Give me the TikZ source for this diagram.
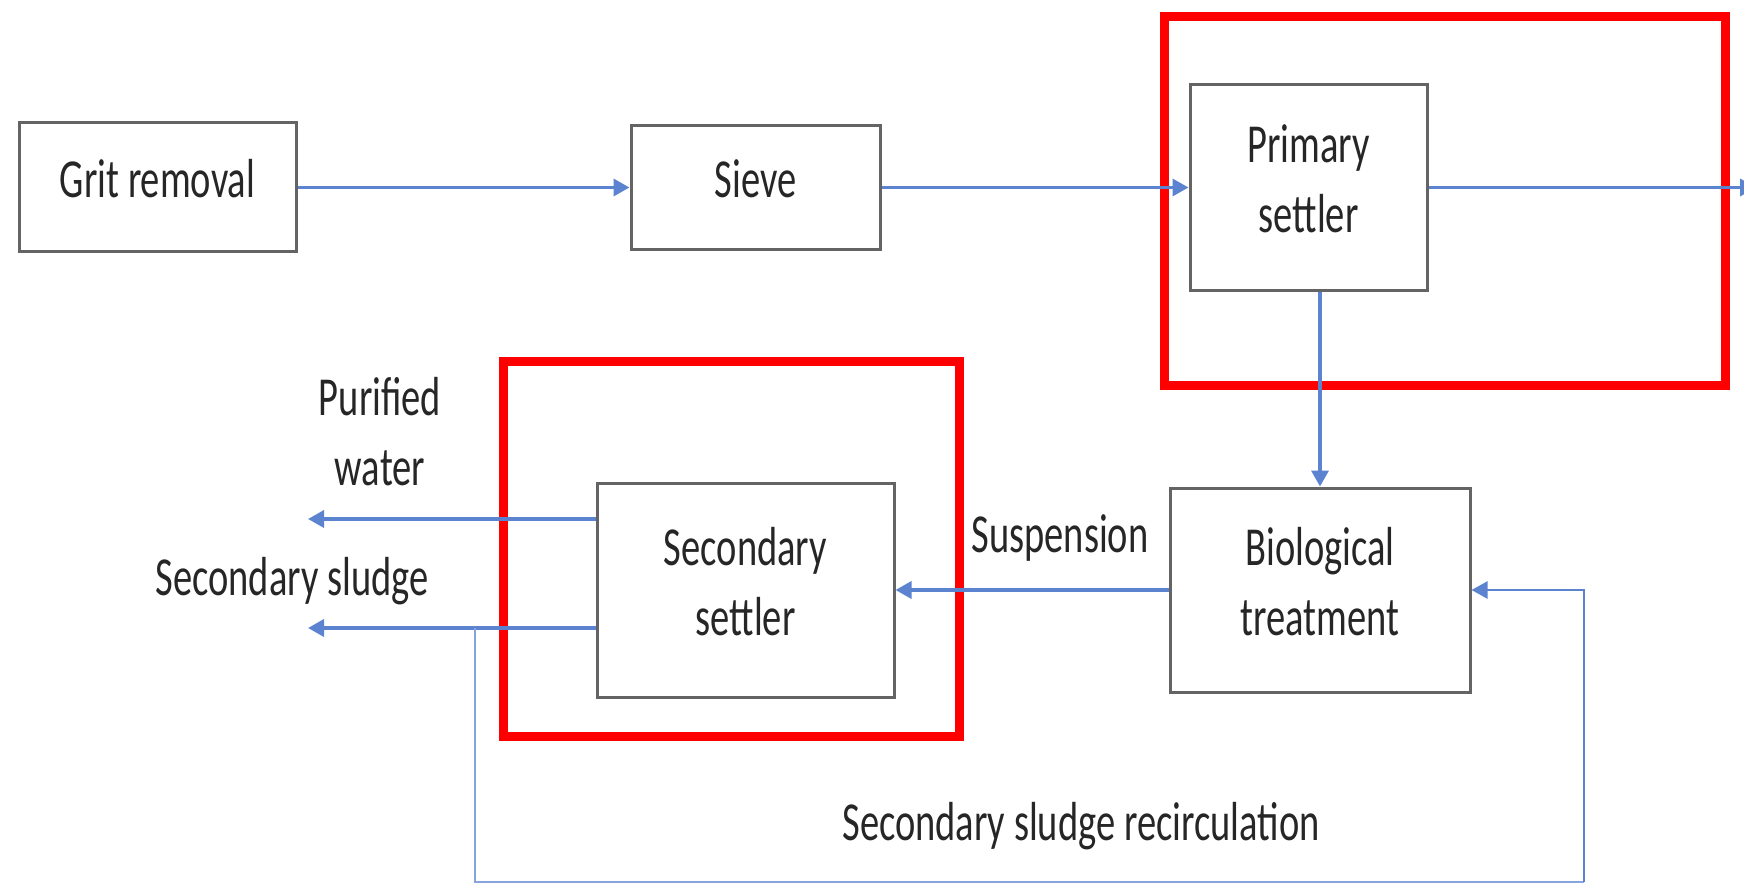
\documentclass[tikz,border=0pt]{standalone}
\usepackage{fontspec}
\newfontfamily\calib[FakeStretch=0.7]{Carlito}
\usetikzlibrary{arrows.meta}
\definecolor{flowblue}{RGB}{91,131,207}
\definecolor{recblue}{RGB}{135,165,220}
\definecolor{boxgray}{RGB}{100,100,100}
\definecolor{txtgray}{RGB}{38,38,38}

\begin{document}
\begin{tikzpicture}[x=10pt,y=-10pt,
	font=\calib\fontsize{55}{70}\selectfont, text=txtgray,
	unit/.style={draw=boxgray, line width=3pt, fill=white, inner sep=0pt, align=center, text depth=18pt},
	flow/.style={draw=flowblue, line width=3.5pt, -{Triangle[length=16pt,width=17pt]}},
	recirc/.style={draw=recblue, line width=2.5pt},
	frame/.style={draw=red, line width=9pt}]
	\useasboundingbox (0,0) rectangle (174.4,88.5);
	\draw[frame] (116.4,1.7) rectangle (172.5,38.5);
	\draw[frame] (50.3,36.1) rectangle (95.9,73.6);
	
	\node[unit, minimum width=277pt, minimum height=129pt] (grit) at (15.75,18.75) {Grit removal};
	\node[unit, minimum width=249pt, minimum height=124pt] (sieve) at (75.55,18.75) {Sieve};
	\node[unit, minimum width=237pt, minimum height=205pt] (prim) at (130.85,18.75) {Primary\\settler};
	\node[unit, minimum width=300pt, minimum height=204pt] (bio) at (132.0,59.0) {Biological\\treatment};
	\node[unit, minimum width=297pt, minimum height=214pt] (sec) at (74.55,59.0) {Secondary\\settler};
	
	\node (pw) at (38.0,43.2) [align=center] {Purified\\water};
	\node (ssl) at (29.2,58.1) {Secondary sludge};
	\node (susp) at (106.0,53.8) {Suspension};
	\node (recl) at (108.1,82.6) {Secondary sludge recirculation};
	
	\coordinate (out) at (175.6,18.75);
	\coordinate (pwend) at (30.8,51.9);
	\coordinate (ssend) at (30.8,62.8);
	\coordinate (tap) at (47.5,62.8);
	\coordinate (rc) at (158.4,88.2);
	
	\draw[flow] (grit) -- (sieve);
	\draw[flow] (sieve) -- (prim);
	\draw[flow] (prim) -- (out);
	\draw[flow] (bio.north |- prim.south) -- (bio.north);
	\draw[flow] (bio.west) -- (sec.east);
	\draw[flow] (sec.west |- pwend) -- (pwend);
	\draw[flow] (sec.west |- ssend) -- (ssend);
	\draw[recirc] (tap) |- (rc);
	\draw[recirc, -{Triangle[length=16pt,width=17pt]}, draw=flowblue] (rc) |- (bio.east);
\end{tikzpicture}
\end{document}
